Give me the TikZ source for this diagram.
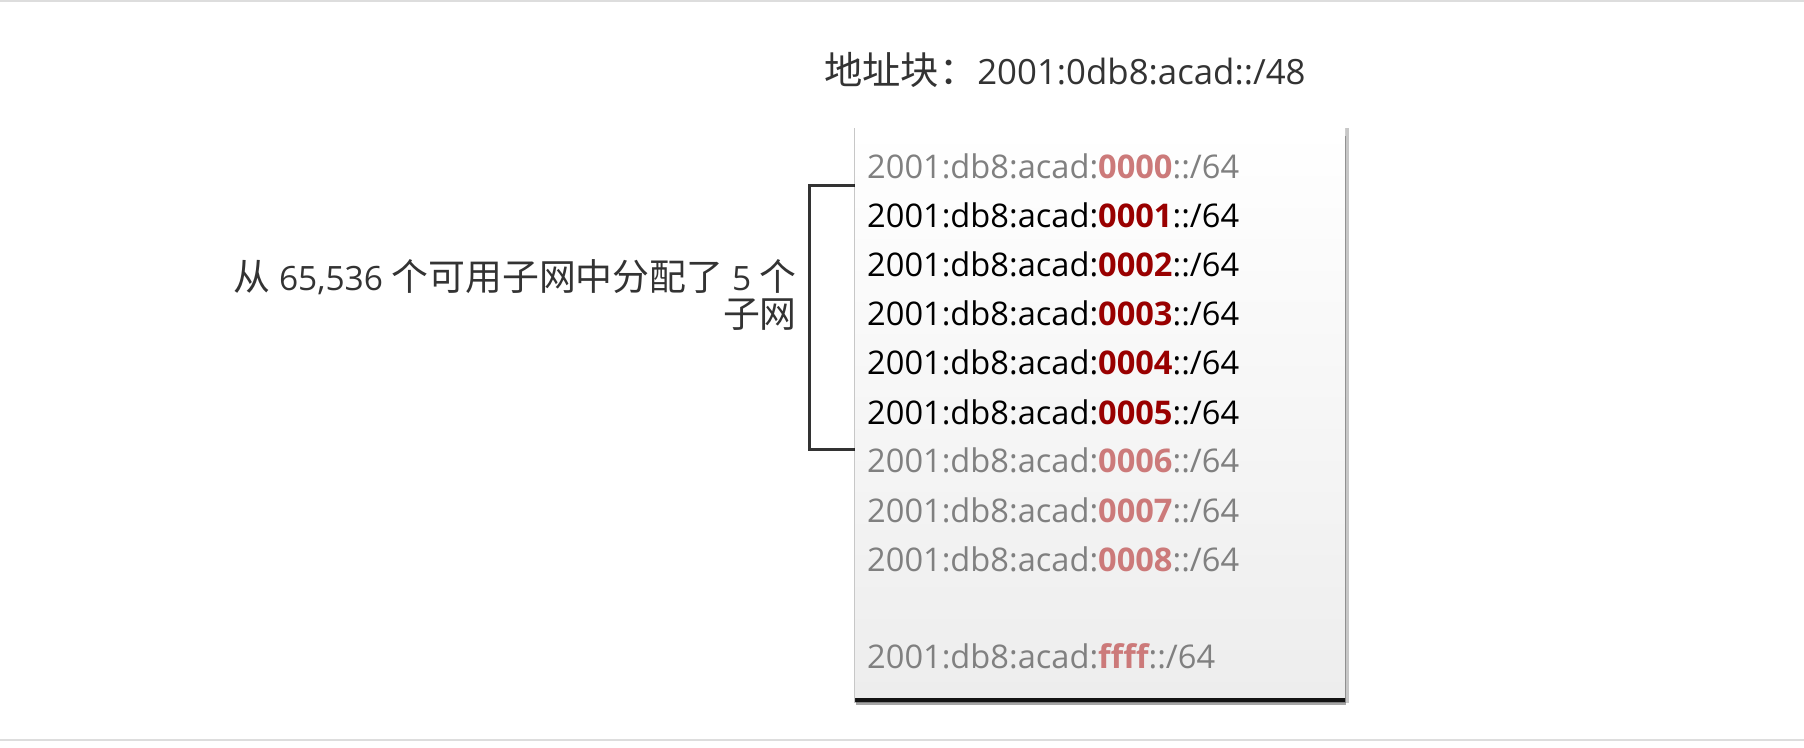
\documentclass[tikz,border=0pt]{standalone}
\usepackage{fontspec}
\setmainfont{Open Sans}
\newfontfamily\cjk[Scale=1.1]{Noto Sans CJK SC}
\usetikzlibrary{shadows}

\definecolor{dimtext}{HTML}{808080}
\definecolor{usedred}{HTML}{990000}
\definecolor{dimred}{HTML}{CC7A7A}
\definecolor{labeltext}{HTML}{333333}
\definecolor{rulegray}{HTML}{DDDDDD}
\definecolor{poolbottom}{HTML}{EDEDED}

\tikzset{
  big/.style={font=\fontsize{32.6}{34}\selectfont, inner sep=0pt},
  caption/.style={font=\fontsize{33.5}{37}\selectfont, inner sep=0pt, text=labeltext},
  subnet/.style={big, anchor=base west},
  unused/.style={subnet, text=dimtext},
  used/.style={subnet, text=black},
}
\newcommand{\hexid}[2]{\textbf{\color{#1}#2}}

\begin{document}
\begin{tikzpicture}[x=1pt, y=-1pt]
  \useasboundingbox (0,0) rectangle (1804,747);
  \draw [rulegray, line width=2pt] (0,1) -- (1804,1);
  \draw [rulegray, line width=2pt] (0,740) -- (1804,740);

  \node [caption, font=\fontsize{34.8}{40}\selectfont, anchor=base west] (title) at (824,84)
    {{\cjk 地址块：}2001:0db8:acad::/48};

  \draw [labeltext, line width=3pt] (855,185) -- ++(-46,0) |- (855,449);

  \node [anchor=north west, minimum width=490pt, minimum height=569pt,
    top color=white, bottom color=poolbottom,
    general shadow={fill=black, opacity=0.22, shadow scale=1.01, shadow xshift=1pt, shadow yshift=-3pt},
    general shadow={fill=black, opacity=0.35, shadow xshift=0.5pt, shadow yshift=-8pt},
    general shadow={fill=black, opacity=0.85, shadow xshift=0pt, shadow yshift=-5pt}] (pool) at (855,128) {};

  \node [unused] (r0) at (867,178) {2001:db8:acad:\hexid{dimred}{0000}::/64};
  \node [used]   (r1) at (867,227) {2001:db8:acad:\hexid{usedred}{0001}::/64};
  \node [used]   (r2) at (867,276) {2001:db8:acad:\hexid{usedred}{0002}::/64};
  \node [used]   (r3) at (867,325) {2001:db8:acad:\hexid{usedred}{0003}::/64};
  \node [used]   (r4) at (867,374) {2001:db8:acad:\hexid{usedred}{0004}::/64};
  \node [used]   (r5) at (867,424) {2001:db8:acad:\hexid{usedred}{0005}::/64};
  \node [unused] (r6) at (867,472) {2001:db8:acad:\hexid{dimred}{0006}::/64};
  \node [unused] (r7) at (867,522) {2001:db8:acad:\hexid{dimred}{0007}::/64};
  \node [unused] (r8) at (867,571) {2001:db8:acad:\hexid{dimred}{0008}::/64};
  \node [unused] (rf) at (867,668) {2001:db8:acad:\hexid{dimred}{ffff}::/64};

  \node [caption, anchor=east, align=right] (count) at (797,295)
    {{\cjk 从} 65,536 {\cjk 个可用子网中分配了} 5 {\cjk 个}\\{\cjk 子网}};
\end{tikzpicture}
\end{document}
